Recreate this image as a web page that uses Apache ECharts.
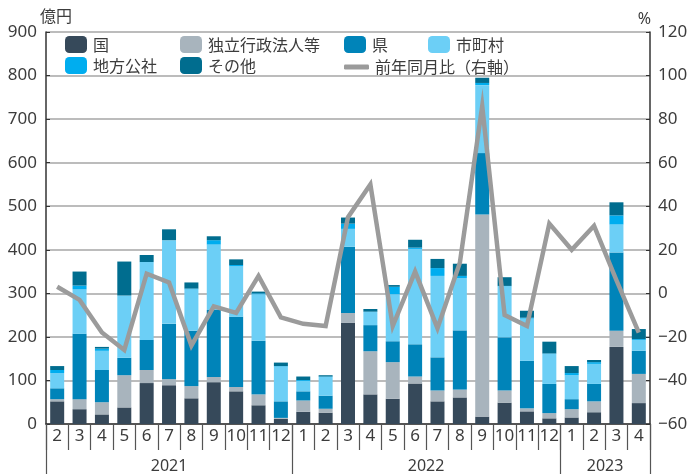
<!DOCTYPE html>
<html>
<head>
<meta charset="utf-8">
<script src="https://cdn.jsdelivr.net/npm/echarts@6/dist/echarts.min.js"></script>
<style>
html,body{margin:0;padding:0;background:#fff;}
#c{width:691px;height:474px;}
</style>
</head>
<body>
<div id="c"></div>
<script>
const months = ['2','3','4','5','6','7','8','9','10','11','12','1','2','3','4','5','6','7','8','9','10','11','12','1','2','3','4'];
const years = ['2021','2022','2023'];
const yTicksLeft = {min: 0, max: 900, interval: 100};
const yTicksRight = {min: -60, max: 120, interval: 20};

const kuni      = [52,34,22,38,94,89,59,96,75,43,12, 28,26,232,68,58,93,52,61,17,49,29,13, 15,27,177,48];
const dokuritsu = [5,23,28,74,30,14,28,12,10,25,2, 26,9,23,99,84,16,25,18,464,28,7,12, 19,25,37,67];
const ken       = [25,150,74,40,69,127,127,154,161,123,38, 21,30,152,60,48,74,76,136,141,122,109,67, 23,40,180,53];
const shichoson = [35,102,44,143,178,192,95,150,116,107,80, 24,43,41,30,108,219,187,120,156,117,97,69, 55,46,64,25];
const chihoKosha= [7,9,5,0,1,0,2,10,3,2,1, 2,1,12,1,17,3,18,5,5,1,2,1, 5,4,21,2];
const sonota    = [9,32,4,78,16,25,14,9,13,4,8, 8,3,14,6,4,18,21,28,12,20,16,27, 16,5,30,23];
const yoy       = [3,-3,-18,-26,9,5,-24,-6,-9,8,-11, -14,-15,35,50,-15,10,-16,14,86,-10,-15,32, 20,31,6,-18];

const barSeries = [
  {name:'国', data:kuni, color:'#36495a'},
  {name:'独立行政法人等', data:dokuritsu, color:'#a8b4bd'},
  {name:'県', data:ken, color:'#0084b9'},
  {name:'市町村', data:shichoson, color:'#6ccff6'},
  {name:'地方公社', data:chihoKosha, color:'#00adef'},
  {name:'その他', data:sonota, color:'#006d8f'}
];
const lineName = '前年同月比（右軸）';
const lineColor = '#9b9b9b';

// year groups from month resets
const starts = [0];
for (let i = 1; i < months.length; i++) if (+months[i] < +months[i-1]) starts.push(i);
const groups = starts.map((s, k) => ({s, n: (k+1 < starts.length ? starts[k+1] : months.length) - s, y: years[k]}));
const yearLabelAt = {};
groups.forEach(g => {
  if (g.n % 2) yearLabelAt[g.s + (g.n-1)/2] = '{n|' + g.y + '}';
  else yearLabelAt[g.s + g.n/2 - 1] = '{s|' + g.y + '}';
});

const txt = '#3c3c3c';
const numFont = 'Noto Sans';
const jpFont = 'Noto Sans CJK JP';

const legendPos = [
  {name:'国', left:65, top:36},
  {name:'独立行政法人等', left:180, top:36},
  {name:'県', left:344, top:36},
  {name:'市町村', left:428, top:36},
  {name:'地方公社', left:65, top:57},
  {name:'その他', left:180, top:57},
  {name:lineName, left:344, top:59}
];

const chart = echarts.init(document.getElementById('c'), null, {renderer:'canvas'});
chart.setOption({
  animation:false,
  backgroundColor:'#fff',
  grid:{left:46, right:41, top:32, bottom:50, containLabel:false},
  legend: legendPos.map(l => {
    const isLine = l.name === lineName;
    return {
      data:[isLine ? {name:l.name, icon:'roundRect', itemStyle:{color:lineColor}} : l.name],
      left:l.left, top:l.top, itemWidth: isLine?25:22, itemHeight: isLine?5:17,
      itemGap:0, padding:0, selectedMode:false,
      textStyle:{fontFamily:jpFont, fontSize:16, color:txt, padding:[0,0,0,1]}
    };
  }),
  xAxis:[
    {type:'category', data:months, position:'bottom',
     axisLine:{show:true, onZero:false, lineStyle:{color:'#333', width:1.5}},
     axisTick:{show:true, interval:0, length:26, alignWithLabel:false, lineStyle:{color:'#555', width:1.2}},
     axisLabel:{interval:0, margin:4, fontFamily:numFont, fontSize:17, color:txt}},
    {type:'category', data:months, position:'bottom', offset:0,
     axisLine:{show:false, onZero:false},
     axisTick:{show:true, length:50, alignWithLabel:false,
       interval:(i)=>starts.includes(i), lineStyle:{color:'#555', width:1.2}},
     axisLabel:{margin:34, interval:(i)=>yearLabelAt[i]!==undefined,
       formatter:(v,i)=>yearLabelAt[i]||'',
       rich:{n:{fontFamily:numFont, fontSize:16, color:txt},
             s:{fontFamily:numFont, fontSize:16, color:txt, padding:[0,0,0,22]}}}}
  ],
  yAxis:[
    {type:'value', min:yTicksLeft.min, max:yTicksLeft.max, interval:yTicksLeft.interval,
     name:'億円', nameLocation:'end', nameGap:5,
     nameTextStyle:{fontFamily:jpFont, fontSize:16, color:txt, align:'left', padding:[0,0,0,-6]},
     axisLine:{show:true, lineStyle:{color:'#333', width:1.5}},
     axisTick:{show:true, inside:true, length:4, lineStyle:{color:'#333'}},
     splitLine:{show:true, lineStyle:{color:'#a6a6a6', width:1.5}},
     axisLabel:{margin:9, fontFamily:numFont, fontSize:17, color:txt}},
    {type:'value', min:yTicksRight.min, max:yTicksRight.max, interval:yTicksRight.interval,
     name:'%', nameLocation:'end', nameGap:5,
     nameTextStyle:{fontFamily:numFont, fontSize:16, color:txt, align:'right', padding:[0,-1,0,0]},
     axisLine:{show:true, lineStyle:{color:'#333', width:1.5}},
     axisTick:{show:true, inside:true, length:4, lineStyle:{color:'#333'}},
     splitLine:{show:false},
     axisLabel:{margin:8, fontFamily:numFont, fontSize:17, color:txt,
       formatter:(v)=> v<0 ? '−'+Math.abs(v) : ''+v}}
  ],
  series: barSeries.map(s => ({
    name:s.name, type:'bar', stack:'total', data:s.data, barWidth:14,
    itemStyle:{color:s.color}, xAxisIndex:0, yAxisIndex:0
  })).concat([{
    name:lineName, type:'line', data:yoy, xAxisIndex:0, yAxisIndex:1,
    symbol:'none', showSymbol:false, z:5,
    lineStyle:{color:lineColor, width:4.5, join:'miter'}, itemStyle:{color:lineColor}
  }])
});
</script>
</body>
</html>
